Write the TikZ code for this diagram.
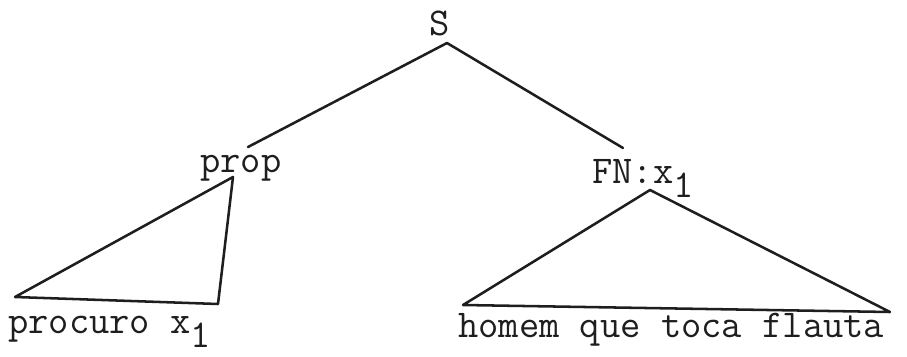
\documentclass[tikz,border=0pt]{standalone}
\usepackage{fontspec}
\usetikzlibrary{positioning,calc}
\definecolor{ink}{RGB}{30,30,30}
\newcommand{\subone}{\raisebox{-0.38em}{1}}
\tikzset{
  word/.style={inner sep=0pt,text=ink,font=\ttfamily\fontsize{28}{32}\selectfont},
  branch/.style={draw=ink,line width=1.8pt,line cap=round,line join=round},
}
\begin{document}
\begin{tikzpicture}[x=0.025cm,y=-0.025cm]
    \useasboundingbox (0,0) rectangle (907,356);
    % labels
    \node[word,anchor=base] (s) at (440,35) {S};
    \node[word,anchor=base west] (prop) at (200,172) {prop};
    \node[word,anchor=base west] (fn) at (592,183) {FN:x\subone};
    \node[word,anchor=base west] (procuro) at (8,333) {procuro x\subone};
    \node[word,anchor=base west] (homem) at (458,337) {homem que toca flauta};
    % branch ends
    \coordinate (s-tip) at (447,43);
    \coordinate (prop-top) at (248,147);
    \coordinate (fn-top) at (623,148);
    \coordinate (prop-tip) at (233,177);
    \coordinate (procuro-l) at (15,297);
    \coordinate (procuro-r) at (218,304);
    \coordinate (fn-tip) at (650,190);
    \coordinate (homem-l) at (463,305);
    \coordinate (homem-r) at (890,312);
    % tree
    \draw[branch] (prop-top) -- (s-tip) -- (fn-top);
    \draw[branch] (prop-tip) -- (procuro-l) -- (procuro-r) -- cycle;
    \draw[branch] (fn-tip) -- (homem-l) -- (homem-r) -- cycle;
\end{tikzpicture}
\end{document}
